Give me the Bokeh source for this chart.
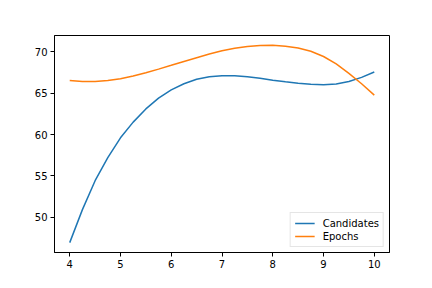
from bokeh.plotting import figure
from bokeh.models import Range1d, FixedTicker, Legend, LegendItem
from bokeh.embed import file_html
from bokeh.resources import INLINE

# x positions
x_vals = [4.0, 4.25, 4.5, 4.75, 5.0, 5.25, 5.5, 5.75, 6.0, 6.25, 6.5, 6.75, 7.0,
          7.25, 7.5, 7.75, 8.0, 8.25, 8.5, 8.75, 9.0, 9.25, 9.5, 9.75, 10.0]

candidates = [46.9, 50.9, 54.4, 57.2, 59.6, 61.5, 63.1, 64.4, 65.4, 66.15,
              66.7, 67.0, 67.12, 67.12, 67.0, 66.82, 66.58, 66.38, 66.2, 66.08,
              66.03, 66.12, 66.42, 66.92, 67.58]

epochs = [66.55, 66.43, 66.42, 66.53, 66.75, 67.08, 67.48, 67.92, 68.38, 68.85,
          69.3, 69.75, 70.15, 70.45, 70.65, 70.78, 70.8, 70.7, 70.48, 70.08,
          69.45, 68.55, 67.4, 66.15, 64.77]

series_names = ["Candidates", "Epochs"]
series_colors = ["#1f77b4", "#ff7f0e"]
x_ticks = [4, 5, 6, 7, 8, 9, 10]
y_ticks = [50, 55, 60, 65, 70]

xmin, xmax = min(x_vals), max(x_vals)
all_y = candidates + epochs
ymin, ymax = min(all_y), max(all_y)
xpad = (xmax - xmin) * 0.05
ypad = (ymax - ymin) * 0.05

p = figure(width=416, height=272, output_backend="svg", toolbar_location=None,
           x_range=Range1d(xmin - xpad, xmax + xpad),
           y_range=Range1d(ymin - ypad, ymax + ypad),
           min_border_left=54, min_border_right=27, min_border_top=35,
           min_border_bottom=20)
p.background_fill_color = "white"
p.border_fill_color = "white"
p.grid.visible = False
p.outline_line_color = "black"
p.outline_line_width = 1
p.outline_line_alpha = 1

for ax in (p.xaxis, p.yaxis):
    ax.axis_line_color = "black"
    ax.axis_line_width = 1
    ax.major_tick_line_color = "black"
    ax.major_tick_out = 4
    ax.major_tick_in = 0
    ax.minor_tick_line_color = None
    ax.major_label_text_font = "DejaVu Sans"
    ax.major_label_text_font_size = "10px"
    ax.major_label_text_color = "black"
    ax.major_label_standoff = 3

p.xaxis.ticker = FixedTicker(ticks=x_ticks)
p.yaxis.ticker = FixedTicker(ticks=y_ticks)

r1 = p.line(x_vals, candidates, line_color=series_colors[0], line_width=1.5)
r2 = p.line(x_vals, epochs, line_color=series_colors[1], line_width=1.5)

legend = Legend(items=[LegendItem(label=series_names[0], renderers=[r1]),
                       LegendItem(label=series_names[1], renderers=[r2])],
                location="bottom_right")
legend.margin = 5
legend.padding = 4
legend.spacing = 1
legend.glyph_width = 20
legend.glyph_height = 12
legend.label_height = 12
legend.label_standoff = 8
legend.label_text_font = "DejaVu Sans"
legend.label_text_font_size = "10px"
legend.label_text_color = "black"
legend.border_line_color = "#cccccc"
legend.border_line_width = 1
legend.background_fill_color = "white"
legend.background_fill_alpha = 0.8
p.add_layout(legend, "center")

open("out.html", "w").write(file_html(p, INLINE))
